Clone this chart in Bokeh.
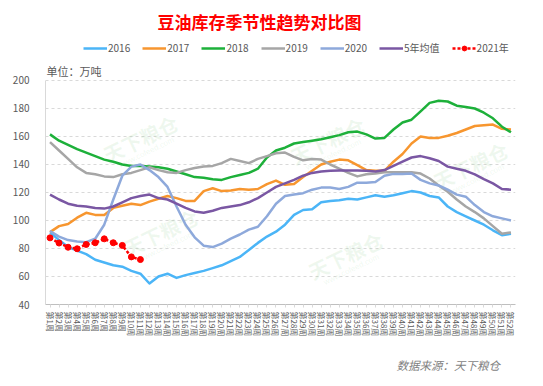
import math
from bokeh.plotting import figure
from bokeh.layouts import column
from bokeh.models import Label, Legend, LegendItem, FactorRange, Range1d, FixedTicker
from bokeh.embed import file_html
from bokeh.resources import INLINE

weeks = ["第%d周" % i for i in range(1, 53)]
y_ticks = [40, 60, 80, 100, 120, 140, 160, 180, 200]

s2016 = [91.5, 86, 81, 78.5, 76, 72, 70, 68, 67, 64, 62, 55, 60, 62, 59, 61, 62.5, 64, 66, 68,
         71, 74, 79, 84, 88.5, 92, 97, 104, 107.5, 108, 113, 114, 114.5, 115.5, 115, 116.5, 118, 117, 118, 119.5,
         121, 120, 117.5, 116.5, 110, 106, 103, 100, 97, 93, 89.5, 90.5]
s2017 = [91.7, 96, 97.5, 102, 105.5, 104, 104, 109, 110.5, 112, 111, 113.5, 115.5, 117.5, 116, 114, 114, 121, 123, 121,
         121.5, 122.5, 122, 122.5, 126, 128.5, 125.5, 126, 131, 135.5, 140, 142, 143.5, 143, 139.5, 136, 135.5, 135.5, 142, 147.5,
         155, 160, 159, 159, 160.5, 162.5, 165, 167.5, 168, 168.5, 165.5, 165]
s2018 = [161.5, 157, 154, 151, 148.5, 146, 143.5, 142, 140, 139, 139, 138.5, 138, 137, 135, 133, 131, 130.5, 129.5, 129,
         131, 132.5, 134, 137, 145, 150, 152, 155, 156, 157, 158, 159.5, 161, 163, 163.5, 161.5, 158.5, 159, 165, 170,
         172, 178, 184, 185.5, 185, 182, 181, 180, 177, 173, 167, 163]
s2019 = [156, 150, 144, 138, 134, 133, 131.5, 131, 133, 134, 136, 138, 136, 134.5, 134, 136, 137.5, 138.5, 139, 141,
         144, 142.5, 141, 144, 146, 148, 148.5, 145.5, 143, 144, 143.5, 140, 137, 134, 131.5, 133, 133.5, 134.5, 134.5, 134.5,
         134.5, 133.5, 130, 125, 120.5, 115, 110, 106, 101.5, 96, 90.5, 91.5]
s2020 = [92.5, 88.5, 86, 85, 84.5, 87, 97, 115, 132, 138.5, 140, 136, 131, 124, 110, 97, 88, 82, 81, 83.5,
         87, 90, 93.5, 95.5, 103, 112, 117.5, 118.5, 119.5, 122, 123.5, 123.5, 122.5, 124, 127, 127, 127.5, 132, 133.3, 133.3,
         133.5, 129, 126.5, 125, 122, 118.5, 117, 111, 106, 103, 101.5, 100]
avg5 = [118.5, 115, 112, 110.5, 110, 109, 108.5, 110, 113, 116, 117.5, 118.5, 116, 115, 112, 109, 106.5, 105.5, 107, 109,
        110, 111, 113, 116, 120, 124, 126.5, 129, 132, 134, 135, 135.5, 135.7, 135.7, 135.7, 135.5, 135, 136, 139, 142,
        145, 146, 144.5, 142.5, 138.5, 137, 135.5, 133, 129.5, 126.5, 122.5, 122]
s2021 = [87.6, 83.9, 80.9, 79.8, 82.9, 84.1, 86.9, 84.1, 82.2, 74, 72.1]

series = [
    ("2016", s2016, "#4BB5F7"),
    ("2017", s2017, "#F7962F"),
    ("2018", s2018, "#1DB03A"),
    ("2019", s2019, "#A6A6A6"),
    ("2020", s2020, "#8EA9DB"),
    ("5年均值", avg5, "#7A57A3"),
]
red = "#FF0000"
CJK = "Noto Sans CJK SC"

# frame spans from the canvas top; the range above 200 holds title, legend and unit text
p = figure(width=537, height=350, x_range=FactorRange(*weeks), y_range=Range1d(40, 257.14),
           output_backend="svg", toolbar_location=None,
           min_border_left=45, min_border_right=22, min_border_top=0, min_border_bottom=46)
p.background_fill_color = "white"
p.border_fill_color = "white"
p.outline_line_color = None

p.xgrid.grid_line_color = None
p.ygrid.grid_line_color = "#D9D9D9"
p.ygrid.grid_line_dash = "3 3"
p.yaxis.ticker = FixedTicker(ticks=y_ticks)
p.yaxis.bounds = (40, 200)
p.yaxis.axis_line_color = "#D9D9D9"
p.yaxis.major_tick_line_color = None
p.yaxis.minor_tick_line_color = None
p.yaxis.major_label_standoff = 10
p.yaxis.major_label_text_font = CJK
p.yaxis.major_label_text_font_size = "10px"
p.yaxis.major_label_text_color = "#595959"

p.xaxis.axis_line_color = "#BFBFBF"
p.xaxis.major_tick_line_color = "#D9D9D9"
p.xaxis.major_tick_out = 3
p.xaxis.major_tick_in = 0
p.xaxis.major_label_orientation = -math.pi / 2
p.xaxis.major_label_standoff = 4
p.xaxis.major_label_text_font = CJK
p.xaxis.major_label_text_font_size = "8px"
p.xaxis.major_label_text_color = "#595959"

# faint watermarks
for cx, cy in [(140, 138), (160, 232), (327, 140), (345, 255), (470, 165)]:
    p.add_layout(Label(x=cx, y=cy, x_units="canvas", y_units="canvas", text="天下粮仓", angle=0.45,
                       text_font=CJK, text_font_size="20px", text_font_style="bold",
                       text_color="#7CC47C", text_alpha=0.12, text_align="center",
                       text_baseline="middle", level="underlay"))
    p.add_layout(Label(x=cx + 6, y=cy + 14, x_units="canvas", y_units="canvas", text="www.cofeed.com",
                       angle=0.45, text_font="Liberation Sans", text_font_size="8px",
                       text_color="#7CC47C", text_alpha=0.12, text_align="center",
                       text_baseline="middle", level="underlay"))

items = []
for name, vals, col in series:
    r = p.line(weeks[:len(vals)], vals, line_color=col, line_width=2.5, line_join="round")
    items.append(LegendItem(label=name, renderers=[r]))
rl = p.line(weeks[:len(s2021)], s2021, line_color=red, line_width=2.5, line_dash="3 2")
rc = p.scatter(weeks[:len(s2021)], s2021, size=6, fill_color=red, line_color=red)
items.append(LegendItem(label="2021年", renderers=[rl, rc]))

legend = Legend(items=items, orientation="horizontal", location=(38, 249),
                glyph_width=24, glyph_height=12, label_standoff=1, spacing=12,
                padding=0, margin=0, border_line_color=None, background_fill_alpha=0,
                label_text_font=CJK, label_text_font_size="10px", label_text_color="#595959",
                label_height=12)
p.add_layout(legend)

p.add_layout(Label(x=259, y=21, x_units="canvas", y_units="canvas", text="豆油库存季节性趋势对比图",
                   text_font=CJK, text_font_size="17px", text_font_style="bold", text_color=red,
                   text_align="center", text_baseline="middle"))
p.add_layout(Label(x=46, y=70, x_units="canvas", y_units="canvas", text="单位：万吨",
                   text_font=CJK, text_font_size="11px", text_color="#595959",
                   text_align="left", text_baseline="middle"))

# bottom strip with the source note
b = figure(width=537, height=33, output_backend="svg", toolbar_location=None,
           x_axis_location=None, y_axis_location=None, min_border=0,
           x_range=Range1d(0, 1), y_range=Range1d(0, 1))
b.outline_line_color = None
b.grid.visible = False
b.background_fill_color = "white"
b.border_fill_color = "white"
b.add_layout(Label(x=396, y=14, x_units="canvas", y_units="canvas", text="数据来源：天下粮仓",
                   text_font=CJK, text_font_size="11.5px", text_font_style="italic", text_color="#7F7F7F",
                   text_align="left", text_baseline="middle"))

layout = column(p, b, spacing=0)
open("out.html", "w").write(file_html(layout, INLINE))
